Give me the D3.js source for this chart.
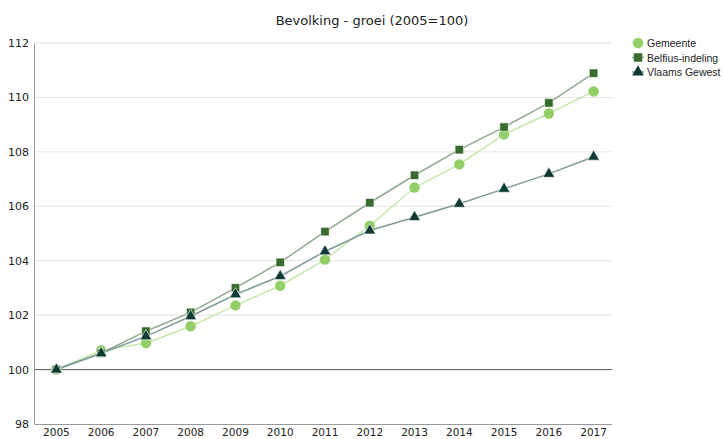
<!DOCTYPE html>
<html>
<head>
<meta charset="utf-8">
<script src="https://cdn.jsdelivr.net/npm/d3@7"></script>
<style>
  body { margin: 0; background: #fff; }
  svg { font-family: "DejaVu Sans", Verdana, sans-serif; }
</style>
</head>
<body>
<svg id="chart"></svg>
<script>
const years = ['2005','2006','2007','2008','2009','2010','2011','2012','2013','2014','2015','2016','2017'];
const gemeente = [100, 100.71, 100.97, 101.59, 102.36, 103.08, 104.04, 105.29, 106.69, 107.54, 108.64, 109.41, 110.22];
const belfius = [100, 100.6, 101.41, 102.1, 103.0, 103.94, 105.07, 106.13, 107.14, 108.08, 108.91, 109.8, 110.89];
const vlaams = [100, 100.6, 101.22, 101.96, 102.76, 103.43, 104.34, 105.11, 105.6, 106.09, 106.64, 107.19, 107.82];
const yTicks = [98, 100, 102, 104, 106, 108, 110, 112];

const series = [
  { name: 'Gemeente', values: gemeente, marker: 'circle', fill: '#92cf68', line: '#c8e6ad' },
  { name: 'Belfius-indeling', values: belfius, marker: 'square', fill: '#386b2d', line: '#91a991' },
  { name: 'Vlaams Gewest', values: vlaams, marker: 'triangle', fill: '#0e3b33', line: '#7f9a9b' }
];

const W = 724, H = 439;
const margin = { top: 43, right: 108, bottom: 15, left: 34 };
const width = W - margin.left - margin.right;
const height = H - margin.top - margin.bottom;

const svg = d3.select('#chart').attr('width', W).attr('height', H);

svg.append('text')
  .attr('x', 372).attr('y', 25)
  .attr('text-anchor', 'middle')
  .attr('font-size', 13)
  .attr('fill', '#222')
  .text('Bevolking - groei (2005=100)');

const g = svg.append('g').attr('transform', `translate(${margin.left},${margin.top})`);

const x = d3.scaleBand().domain(years).range([0, 582]);
const y = d3.scaleLinear().domain([98, 112]).range([height, 0]);

// gridlines
g.selectAll('.grid')
  .data(yTicks.filter(t => t !== 98 && t !== 100))
  .enter().append('line')
  .attr('x1', 0).attr('x2', 578)
  .attr('y1', d => y(d)).attr('y2', d => y(d))
  .attr('stroke', '#e4e4e4');

// baseline at 100
g.append('line')
  .attr('x1', 0).attr('x2', 578)
  .attr('y1', y(100)).attr('y2', y(100))
  .attr('stroke', '#555');

// axes
const yAxis = g.append('g')
  .call(d3.axisLeft(y).tickValues(yTicks).tickSize(0).tickPadding(5));
yAxis.select('.domain').attr('stroke', '#999');
yAxis.selectAll('text').attr('font-size', 11).attr('fill', '#222').attr('font-family', '"DejaVu Sans", Verdana, sans-serif');

const xAxis = g.append('g')
  .attr('transform', `translate(0,${height})`)
  .call(d3.axisBottom(x).tickSize(0).tickPadding(5));
xAxis.select('.domain').attr('stroke', '#999').attr('d', `M0.5,0.5H578`);
xAxis.selectAll('text').attr('font-size', 10.5).attr('fill', '#222').attr('font-family', '"DejaVu Sans", Verdana, sans-serif');

const cx = d => x(d) + x.bandwidth() / 2;

const symbols = {
  circle: d3.symbol().type(d3.symbolCircle).size(85),
  square: d3.symbol().type(d3.symbolSquare).size(72),
  triangle: d3.symbol().type(d3.symbolTriangle).size(60)
};

const line = d3.line().x((d, i) => cx(years[i])).y(d => y(d));

series.forEach(s => {
  g.append('path')
    .datum(s.values)
    .attr('d', line)
    .attr('fill', 'none')
    .attr('stroke', s.line)
    .attr('stroke-width', 1.5);
});

series.forEach(s => {
  g.selectAll(null)
    .data(s.values)
    .enter().append('path')
    .attr('d', symbols[s.marker])
    .attr('transform', (d, i) => `translate(${cx(years[i])},${y(d)})`)
    .attr('fill', s.fill)
    .attr('stroke', s.marker === 'circle' ? 'none' : '#fff')
    .attr('stroke-width', 0.6);
});

// legend
const legend = svg.append('g').attr('transform', 'translate(638,43)');
series.forEach((s, i) => {
  const row = legend.append('g').attr('transform', `translate(0,${i * 14.5})`);
  row.append('line').attr('x1', -6).attr('x2', 6).attr('stroke', s.line).attr('stroke-width', 1.5);
  row.append('path').attr('d', symbols[s.marker]).attr('fill', s.fill);
  row.append('text')
    .attr('x', 9).attr('y', 4)
    .attr('font-size', 10.5)
    .attr('font-family', '"Liberation Sans", Arial, sans-serif')
    .attr('fill', '#222')
    .text(s.name);
});
</script>
</body>
</html>
